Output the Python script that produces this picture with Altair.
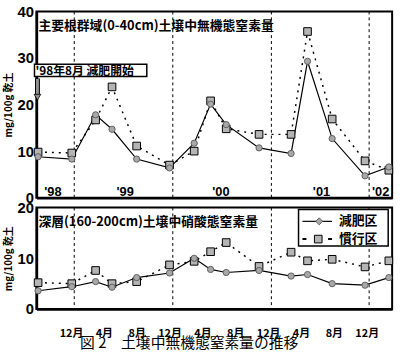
import altair as alt
import pandas as pd

# ---- data (month index: Jan 1998 = 1) ----
months = [8.0, 12.1, 15.0, 17.0, 20.0, 24.0, 27.0, 29.0, 30.9, 34.9, 38.8, 40.8, 43.8, 47.8, 50.7]
top_genpi = [8.8, 8.3, 17.8, 14.7, 8.3, 6.4, 11.7, 20.1, 15.7, 10.7, 9.5, 29.3, 12.7, 4.7, 6.6]
top_kanko = [9.8, 9.6, 16.7, 23.8, 11.1, 7.0, 10.0, 20.8, 14.8, 13.6, 13.6, 35.7, 16.9, 7.9, 5.9]
bot_genpi = [3.6, 4.4, 5.4, 4.3, 6.2, 7.1, 10.0, 7.8, 7.2, 7.6, 6.5, 6.8, 5.0, 4.7, 6.2]
bot_kanko = [5.2, 5.0, 7.6, 5.0, 5.4, 8.7, 9.4, 11.3, 13.1, 8.4, 11.2, 9.5, 9.8, 8.3, 9.5]

year_boundaries = [12.4, 24.4, 36.4, 48.3]
year_labels = ["'98", "'99", "'00", "'01", "'02"]
year_label_months = [9.8, 18.6, 30.25, 42.5, 49.7]
x_tick_values = [12, 16, 20, 24, 28, 32, 36, 40, 44, 48]

top_title = "主要根群域(0-40cm)土壌中無機態窒素量"
bot_title = "深層(160-200cm)土壌中硝酸態窒素量"
note_text = "'98年8月  減肥開始"
caption = "図 2　土壌中無機態窒素量の推移"
series_names = ["減肥区", "慣行区"]
y_title = "mg/100g 乾土"

JP = "Noto Sans CJK JP"
NUM = "Liberation Sans"
W = 361
H_TOP = 189
H_BOT = 103
X_DOMAIN = [7.8, 51.1]

top_df = pd.DataFrame({"m": months, "g": top_genpi, "k": top_kanko})
bot_df = pd.DataFrame({"m": months, "g": bot_genpi, "k": bot_kanko})
rules_df = pd.DataFrame({"m": year_boundaries})
years_df = pd.DataFrame({"m": year_label_months, "t": year_labels, "k": [1.3] * 5})
one = pd.DataFrame({"a": [0]})


def make_y_axis(ticks):
    return alt.Axis(values=ticks, title=y_title, grid=False, ticks=False, labelOverlap=False,
                    labelFont=NUM, labelFontWeight="bold", labelFontSize=15,
                    labelPadding=3, titleFont=JP, titleFontWeight="bold",
                    titleFontSize=10, titlePadding=4, labelColor="black",
                    titleColor="black", domainWidth=2.5, domainColor="black")


def series_layers(df, ymax, ticks, xaxis):
    xs = alt.Scale(domain=X_DOMAIN, nice=False, zero=False)
    x = alt.X("m:Q", scale=xs, axis=xaxis)
    yscale = alt.Scale(domain=[0, ymax], nice=False)
    yaxis = make_y_axis(ticks)
    base = alt.Chart(df)
    line_k = base.mark_line(color="black", strokeWidth=1.5, strokeDash=[2, 5]).encode(
        x=x, y=alt.Y("k:Q", scale=yscale, axis=yaxis))
    rules = alt.Chart(rules_df).mark_rule(color="black", strokeDash=[3, 3], strokeWidth=1).encode(
        x=alt.X("m:Q", scale=xs, axis=xaxis))
    line_g = base.mark_line(color="black", strokeWidth=1.2).encode(
        x=x, y=alt.Y("g:Q", scale=yscale, axis=yaxis))
    pts_k = base.mark_point(shape="square", filled=True, fill="#b4b4b4", stroke="black",
                            strokeWidth=1, size=60, opacity=1).encode(
        x=x, y=alt.Y("k:Q", scale=yscale, axis=yaxis))
    pts_g = base.mark_point(shape="circle", filled=True, fill="#a8a8a8", stroke="#606060",
                            strokeWidth=1, size=40, opacity=1).encode(
        x=x, y=alt.Y("g:Q", scale=yscale, axis=yaxis))
    return [line_k, rules, line_g, pts_k, pts_g]


top_xaxis = alt.Axis(labels=False, ticks=False, title=None, grid=False,
                     domainWidth=2.5, domainColor="black")
bot_xaxis = alt.Axis(values=x_tick_values, title=None, grid=False, ticks=False,
                     labelExpr="((datum.value - 1) % 12 + 1) + '月'", labelOverlap=False,
                     labelFont=JP, labelFontWeight="bold", labelFontSize=11,
                     labelColor="black", labelPadding=19, domainWidth=2.5, domainColor="black")

# ---- top panel ----
top_layers = series_layers(top_df, 40, [0, 10, 20, 30, 40], top_xaxis)
top_year_text = alt.Chart(years_df).mark_text(font=NUM, fontWeight="bold", fontSize=13,
                                              color="black").encode(
    x=alt.X("m:Q", scale=alt.Scale(domain=X_DOMAIN, nice=False, zero=False), axis=top_xaxis),
    y=alt.Y("k:Q", scale=alt.Scale(domain=[0, 40], nice=False),
            axis=make_y_axis([0, 10, 20, 30, 40])),
    text="t:N")
top_title_mark = alt.Chart(one).mark_text(font=JP, fontWeight="bold", fontSize=13,
                                          align="left", baseline="middle", color="black").encode(
    x=alt.value(2), y=alt.value(14.5), text=alt.value(top_title))
note_box = alt.Chart(one).mark_rect(fill="white", stroke="black", strokeWidth=1.5).encode(
    x=alt.value(-2), x2=alt.value(112), y=alt.value(53.5), y2=alt.value(66))
note_mark = alt.Chart(one).mark_text(font=JP, fontWeight="bold", fontSize=12,
                                     align="left", baseline="middle", color="black").encode(
    x=alt.value(-1), y=alt.value(60), text=alt.value(note_text))
arrow_outline = alt.Chart(one).mark_rule(color="black", strokeWidth=5).encode(
    x=alt.value(1), y=alt.value(68), y2=alt.value(84))
arrow_shaft = alt.Chart(one).mark_rule(color="#909090", strokeWidth=3).encode(
    x=alt.value(1), y=alt.value(68.5), y2=alt.value(84))
arrow_head = alt.Chart(one).mark_point(shape="triangle-down", filled=True, fill="#909090",
                                       stroke="black", strokeWidth=0.8, size=45, opacity=1).encode(
    x=alt.value(1), y=alt.value(87))

top = alt.layer(*top_layers, top_year_text, top_title_mark, note_box, note_mark,
                arrow_outline, arrow_shaft, arrow_head).properties(width=W, height=H_TOP)

# ---- bottom panel ----
bot_layers = series_layers(bot_df, 20, [0, 10, 20], bot_xaxis)
bot_title_mark = alt.Chart(one).mark_text(font=JP, fontWeight="bold", fontSize=13,
                                          align="left", baseline="middle", color="black").encode(
    x=alt.value(2), y=alt.value(15), text=alt.value(bot_title))
leg_box = alt.Chart(one).mark_rect(fill="white", stroke="black", strokeWidth=1.5).encode(
    x=alt.value(266), x2=alt.value(357), y=alt.value(2), y2=alt.value(39))
leg_line1 = alt.Chart(one).mark_rule(color="black", strokeWidth=1.2).encode(
    x=alt.value(270), x2=alt.value(300), y=alt.value(14))
leg_pt1 = alt.Chart(one).mark_point(shape="diamond", filled=True, fill="#a8a8a8", stroke="#606060",
                                    strokeWidth=1, size=50, opacity=1).encode(
    x=alt.value(287), y=alt.value(14))
leg_line2 = alt.Chart(one).mark_rule(color="black", strokeWidth=2, strokeDash=[4, 9]).encode(
    x=alt.value(270), x2=alt.value(300), y=alt.value(32))
leg_pt2 = alt.Chart(one).mark_point(shape="square", filled=True, fill="#b4b4b4", stroke="black",
                                    strokeWidth=1, size=60, opacity=1).encode(
    x=alt.value(286), y=alt.value(32))
leg_text = alt.Chart(pd.DataFrame({"t": series_names, "yy": [14, 32]})).mark_text(
    font=JP, fontWeight="bold", fontSize=13, align="left", baseline="middle", color="black").encode(
    x=alt.value(307), y=alt.Y("yy:Q", scale=None), text="t:N")
caption_mark = alt.Chart(one).mark_text(font=JP, fontSize=15, align="center", baseline="middle",
                                        color="black").encode(
    x=alt.value(155), y=alt.value(138), text=alt.value(caption))

bot = alt.layer(*bot_layers, bot_title_mark, leg_box, leg_line1, leg_pt1, leg_line2, leg_pt2,
                leg_text, caption_mark).properties(width=W, height=H_BOT)

chart = alt.vconcat(top, bot, spacing=10, bounds="flush").properties(
    padding={"left": 2, "top": 1, "right": 5, "bottom": 0},
    background="white",
).configure_view(stroke="black", strokeWidth=2)

chart.save("out.html", embed_options={"renderer": "svg", "actions": False})
